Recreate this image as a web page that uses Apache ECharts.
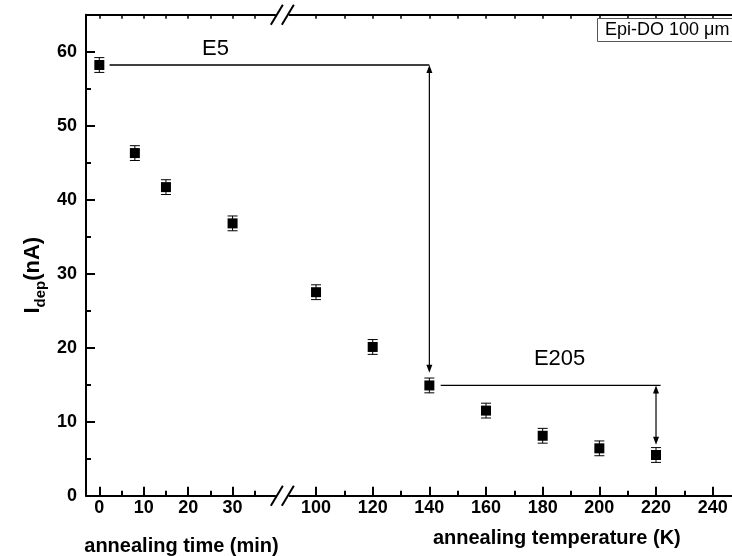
<!DOCTYPE html>
<html>
<head>
<meta charset="utf-8">
<script src="https://cdn.jsdelivr.net/npm/echarts@6/dist/echarts.min.js"></script>
<style>html,body{margin:0;padding:0;background:#fff}#c{width:732px;height:556px}</style>
</head>
<body>
<div id="c"></div>
<script>
// ---- data ----
const timeMin   = [0, 8, 15, 30];
const timeIdep  = [58.2, 46.3, 41.7, 36.8];
const timeErr   = [1.0, 1.0, 1.0, 1.0];
const tempK     = [100, 120, 140, 160, 180, 200, 220];
const tempIdep  = [27.5, 20.1, 14.9, 11.5, 8.1, 6.4, 5.5];
const tempErr   = [1.0, 1.0, 1.0, 1.0, 1.0, 1.0, 1.0];
// ---- tick labels ----
const yMajor = [0, 10, 20, 30, 40, 50, 60];
const yMinor = [5, 15, 25, 35, 45, 55];
const timeMajor = [0, 10, 20, 30];
const timeMinor = [5, 15, 25, 35];
const timeTop = [0, 5, 10, 15, 20, 25, 30, 35];
const tempMajor = [100, 120, 140, 160, 180, 200, 220, 240];
const tempMinor = [110, 130, 150, 170, 190, 210, 230, 250];
const tempTop = [100, 110, 120, 130, 140, 150, 160, 170, 180, 190, 200, 210, 220, 230, 240, 250, 260, 270];
// ---- annotations (data units) ----
const e5Label = 'E5', e5Level = 58.2, e5FromTime = 2.3, e5ToTemp = 140, e5ArrowEnd = 16.6;
const e205Label = 'E205', e205Level = 14.9, e205FromTemp = 144, e205ToTemp = 221.6, e205ArrowX = 220, e205ArrowEnd = 6.9;
const boxText = 'Epi-DO 100 μm';

const FONT = "'Liberation Sans', Arial, Helvetica, sans-serif";
const black = '#000';

function majorX(grid, min, max, ticks, name, nameGap) {
  return {
    type: 'value', gridIndex: grid, position: 'bottom', min: min, max: max,
    axisLine: { show: true, onZero: false, lineStyle: { color: black, width: 2 } },
    axisTick: { show: true, inside: true, length: 9, customValues: ticks, lineStyle: { color: black, width: 2 } },
    axisLabel: { show: true, customValues: ticks, margin: 3, color: black, fontFamily: FONT, fontSize: 18, fontWeight: 'bold' },
    splitLine: { show: false },
    name: name, nameLocation: 'middle', nameGap: nameGap,
    nameTextStyle: { color: black, fontFamily: FONT, fontSize: 20, fontWeight: 'bold' }
  };
}
function minorX(grid, min, max, ticks) {
  return {
    type: 'value', gridIndex: grid, position: 'bottom', min: min, max: max,
    axisLine: { show: false, onZero: false },
    axisTick: { show: true, inside: true, length: 5, customValues: ticks, lineStyle: { color: black, width: 2 } },
    axisLabel: { show: false }, splitLine: { show: false }
  };
}
function topX(grid, min, max, ticks) {
  return {
    type: 'value', gridIndex: grid, position: 'top', min: min, max: max,
    axisLine: { show: true, onZero: false, lineStyle: { color: black, width: 2 } },
    axisTick: { show: true, inside: true, length: 4, customValues: ticks, lineStyle: { color: black, width: 1.5 } },
    axisLabel: { show: false }, splitLine: { show: false }
  };
}

function errRender(params, api) {
  const x = api.value(0), y = api.value(1), e = api.value(2);
  const hi = api.coord([x, y + e]);
  const lo = api.coord([x, y - e]);
  const hw = 5;
  const st = { stroke: black, lineWidth: 1 };
  return {
    type: 'group',
    children: [
      { type: 'line', shape: { x1: hi[0], y1: hi[1], x2: lo[0], y2: lo[1] }, style: st },
      { type: 'line', shape: { x1: hi[0] - hw, y1: hi[1], x2: hi[0] + hw, y2: hi[1] }, style: st },
      { type: 'line', shape: { x1: lo[0] - hw, y1: lo[1], x2: lo[0] + hw, y2: lo[1] }, style: st }
    ]
  };
}

const option = {
  animation: false,
  backgroundColor: '#fff',
  grid: [
    { left: 86, top: 14.7, width: 191, height: 481, containLabel: false, outerBoundsMode: 'none' },
    { left: 287.7, top: 14.7, width: 538.3, height: 481, containLabel: false, outerBoundsMode: 'none' }
  ],
  xAxis: [
    majorX(0, -3, 40, timeMajor, 'annealing time (min)', 41),
    minorX(0, -3, 40, timeMinor),
    topX(0, -3, 40, timeTop),
    majorX(1, 90, 280, tempMajor, 'annealing temperature (K)', 33),
    minorX(1, 90, 280, tempMinor),
    topX(1, 90, 280, tempTop)
  ],
  yAxis: [
    {
      type: 'value', gridIndex: 0, position: 'left', min: 0, max: 65,
      axisLine: { show: true, onZero: false, lineStyle: { color: black, width: 2 } },
      axisTick: { show: true, inside: true, length: 9, customValues: yMajor, lineStyle: { color: black, width: 2 } },
      axisLabel: { show: true, customValues: yMajor, margin: 9, color: black, fontFamily: FONT, fontSize: 18, fontWeight: 'bold' },
      splitLine: { show: false },
      name: '{a|I}{b|dep}{a|(nA)}', nameLocation: 'middle', nameGap: 38, nameRotate: 90,
      nameTextStyle: {
        color: black, fontFamily: FONT, fontWeight: 'bold', padding: [0, 40, 0, 0],
        rich: {
          a: { fontSize: 22, fontWeight: 'bold', fontFamily: FONT, color: black, lineHeight: 30, verticalAlign: 'middle' },
          b: { fontSize: 15, fontWeight: 'bold', fontFamily: FONT, color: black, lineHeight: 15, verticalAlign: 'bottom' }
        }
      }
    },
    {
      type: 'value', gridIndex: 0, position: 'left', min: 0, max: 65,
      axisLine: { show: false, onZero: false },
      axisTick: { show: true, inside: true, length: 5, customValues: yMinor, lineStyle: { color: black, width: 2 } },
      axisLabel: { show: false }, splitLine: { show: false }
    },
    { type: 'value', gridIndex: 1, position: 'left', min: 0, max: 65, show: false, splitLine: { show: false } }
  ],
  series: [
    {
      type: 'custom', xAxisIndex: 0, yAxisIndex: 0, renderItem: errRender, z: 3,
      data: timeMin.map((t, i) => [t, timeIdep[i], timeErr[i]])
    },
    {
      type: 'scatter', xAxisIndex: 0, yAxisIndex: 0, symbol: 'rect', symbolSize: 10, z: 4,
      itemStyle: { color: black, opacity: 1 }, data: timeMin.map((t, i) => [t, timeIdep[i]])
    },
    {
      type: 'custom', xAxisIndex: 3, yAxisIndex: 2, renderItem: errRender, z: 3,
      data: tempK.map((t, i) => [t, tempIdep[i], tempErr[i]])
    },
    {
      type: 'scatter', xAxisIndex: 3, yAxisIndex: 2, symbol: 'rect', symbolSize: 10, z: 4,
      itemStyle: { color: black, opacity: 1 }, data: tempK.map((t, i) => [t, tempIdep[i]])
    }
  ]
};

const chart = echarts.init(document.getElementById('c'), null, { renderer: 'canvas' });
chart.setOption(option);

const P0 = (x, y) => chart.convertToPixel({ xAxisIndex: 0, yAxisIndex: 0 }, [x, y]);
const P1 = (x, y) => chart.convertToPixel({ xAxisIndex: 3, yAxisIndex: 2 }, [x, y]);

function hline(a, b) {
  return { type: 'line', shape: { x1: a[0], y1: a[1], x2: b[0], y2: b[1] }, style: { stroke: black, lineWidth: 1.3 }, z: 10 };
}
function arrowHead(tip, dir) { // dir: -1 pointing up, +1 pointing down
  const L = 8, W = 3;
  return {
    type: 'polygon', z: 10,
    shape: { points: [[tip[0], tip[1]], [tip[0] - W, tip[1] - dir * L], [tip[0] + W, tip[1] - dir * L]] },
    style: { fill: black }
  };
}
function dblArrow(top, bot) {
  return [
    { type: 'line', shape: { x1: top[0], y1: top[1] + 4, x2: bot[0], y2: bot[1] - 4 }, style: { stroke: black, lineWidth: 1.2 }, z: 10 },
    arrowHead(top, -1), arrowHead(bot, 1)
  ];
}

const e5a = P0(e5FromTime, e5Level);
const e5b = P1(e5ToTemp, e5Level);
const e5c = P1(e5ToTemp, e5ArrowEnd);
const e205a = P1(e205FromTemp, e205Level);
const e205b = P1(e205ToTemp, e205Level);
const e205t = P1(e205ArrowX, e205Level);
const e205c = P1(e205ArrowX, e205ArrowEnd);

// axis-break marks
const gb0 = P0(40, 0), gt0 = P0(40, 65);
const gb1 = P1(90, 0), gt1 = P1(90, 65);
function slashes(yc, xl, xr) {
  const st = { stroke: black, lineWidth: 2 };
  return [
    { type: 'rect', shape: { x: xl - 1, y: yc - 3, width: xr - xl + 2, height: 6 }, style: { fill: '#fff' }, z: 20 },
    { type: 'line', shape: { x1: xl - 6, y1: yc + 10, x2: xl + 6, y2: yc - 10 }, style: st, z: 21 },
    { type: 'line', shape: { x1: xr - 6, y1: yc + 10, x2: xr + 6, y2: yc - 10 }, style: st, z: 21 }
  ];
}

const graphics = [].concat(
  [hline(e5a, e5b)], dblArrow(e5b, e5c),
  [hline(e205a, e205b)], dblArrow(e205t, e205c),
  [
    { type: 'text', z: 10, style: { text: e5Label, x: (e5a[0] + e5b[0]) / 2 - 54, y: e5a[1] - 16, align: 'center', verticalAlign: 'middle', font: '22px ' + FONT, fill: black } },
    { type: 'text', z: 10, style: { text: e205Label, x: (e205a[0] + e205b[0]) / 2 + 9, y: e205a[1] - 27, align: 'center', verticalAlign: 'middle', font: '22px ' + FONT, fill: black } },
    { type: 'rect', z: 10, shape: { x: 597.5, y: 18.5, width: 170, height: 23 }, style: { fill: '#fff', stroke: '#555', lineWidth: 1 } },
    { type: 'text', z: 11, style: { text: boxText, x: 605, y: 30.5, align: 'left', verticalAlign: 'middle', font: '18px ' + FONT, fill: black } }
  ],
  slashes(gb0[1], (gb0[0] + gb1[0]) / 2 - 5.5, (gb0[0] + gb1[0]) / 2 + 5.5),
  slashes(gt0[1], (gt0[0] + gt1[0]) / 2 - 5.5, (gt0[0] + gt1[0]) / 2 + 5.5)
);

chart.setOption({ graphic: { elements: graphics } });
</script>
</body>
</html>
